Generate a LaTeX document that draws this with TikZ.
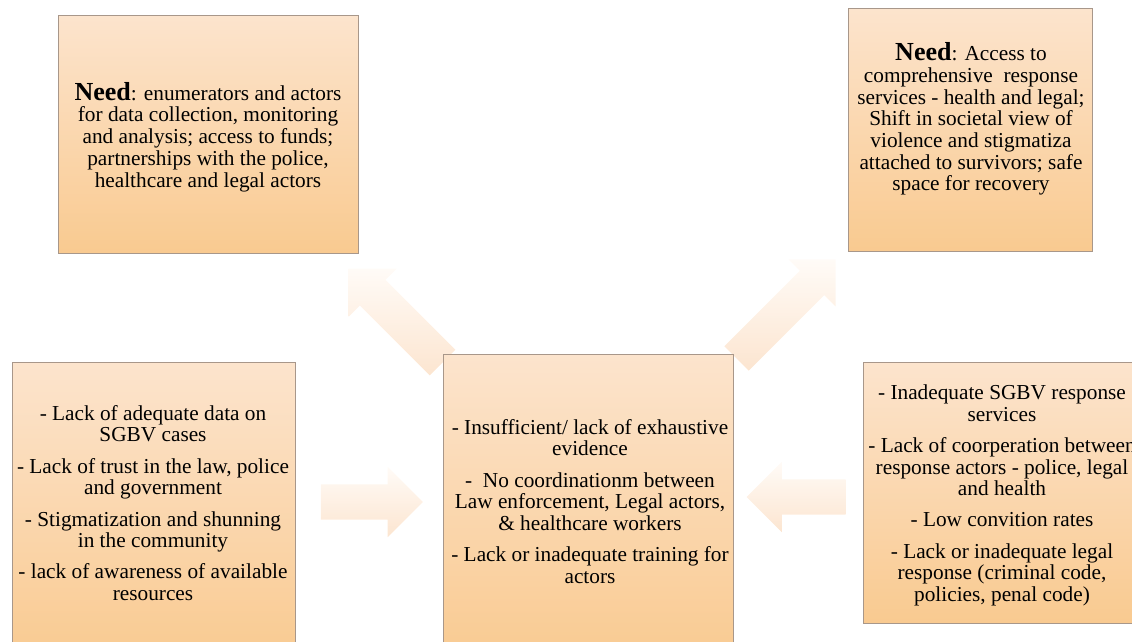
\documentclass[tikz,border=0pt]{standalone}
\usepackage{fontspec}
\setmainfont{Liberation Serif}
\usetikzlibrary{shapes.arrows}

\definecolor{boxtop}{HTML}{FCE4CD}
\definecolor{boxbot}{HTML}{F9CA90}
\definecolor{boxline}{HTML}{A8978A}
\definecolor{arrtop}{HTML}{FFFBF7}
\definecolor{arrbot}{HTML}{FCE5D0}

\begin{document}
\begin{tikzpicture}[x=1pt,y=1pt,
  panel/.style={rectangle, draw=boxline, line width=1pt,
    top color=boxtop, bottom color=boxbot, inner sep=0pt, anchor=north west},
  paneltext/.style={align=center, inner sep=0pt, anchor=north,
    font=\fontsize{21.3}{21.7}\selectfont},
  blockarrow/.style={single arrow, draw=none, inner xsep=0pt, inner ysep=17.5pt,
    single arrow head extend=17.5pt,
    single arrow head indent=0pt, top color=arrtop, bottom color=arrbot},
]
\useasboundingbox (0,0) rectangle (1132,641);
\clip (0,0) rectangle (1132,641);

% block arrows
\node[blockarrow, minimum height=102pt] (arrL) at (363,139) {};
\node[blockarrow, minimum height=99pt, shape border rotate=180] (arrR) at (805,144) {};
\node[blockarrow, minimum height=133pt, rotate=135, inner ysep=18pt,
  single arrow head extend=16pt] (arrUL) at (402,319) {};
\node[blockarrow, minimum height=140pt, rotate=45, inner ysep=17pt,
  single arrow head extend=16pt] (arrUR) at (780,326) {};

% panels
\node[panel, minimum width=300pt, minimum height=238pt] (needL) at (58,626) {};
\node[panel, minimum width=244pt, minimum height=243pt] (needR) at (848,633) {};
\node[panel, minimum width=283pt, minimum height=300pt] (causeL) at (12,279) {};
\node[panel, minimum width=290pt, minimum height=310pt] (core) at (443,287) {};
\node[panel, minimum width=278pt, minimum height=261pt] (causeR) at (863,279) {};

% panel texts
\node[paneltext] (needLtext) at (208,559) {%
  \textbf{\fontsize{26}{21.7}\selectfont Need}: enumerators and actors\\
  for data collection, monitoring\\
  and analysis; access to funds;\\
  partnerships with the police,\\
  healthcare and legal actors};

\node[paneltext] (needRtext) at (971,598.5) {%
  \textbf{\fontsize{26}{21.7}\selectfont Need}: Access to\\
  comprehensive~ response\\
  services - health and legal;\\
  Shift in societal view of\\
  violence and stigmatiza\\
  attached to survivors; safe\\
  space for recovery};

\node[paneltext] (causeLtext) at (153,236) {%
  - Lack of adequate data on\\
  SGBV cases\\[9.5pt]
  - Lack of trust in the law, police\\
  and government\\[9.5pt]
  - Stigmatization and shunning\\
  in the community\\[9.5pt]
  - lack of awareness of available\\
  resources};

\node[paneltext] (coretext) at (590,222) {%
  - Insufficient/ lack of exhaustive\\
  evidence\\[9.5pt]
  -~ No coordinationm between\\
  Law enforcement, Legal actors,\\
  \& healthcare workers\\[9.5pt]
  - Lack or inadequate training for\\
  actors};

\node[paneltext] (causeRtext) at (1002,256.5) {%
  - Inadequate SGBV response\\
  services\\[9.5pt]
  - Lack of coorperation between\\
  response actors - police, legal\\
  and health\\[9.5pt]
  - Low convition rates\\[9.5pt]
  - Lack or inadequate legal\\
  response (criminal code,\\
  policies, penal code)};
\end{tikzpicture}
\end{document}
